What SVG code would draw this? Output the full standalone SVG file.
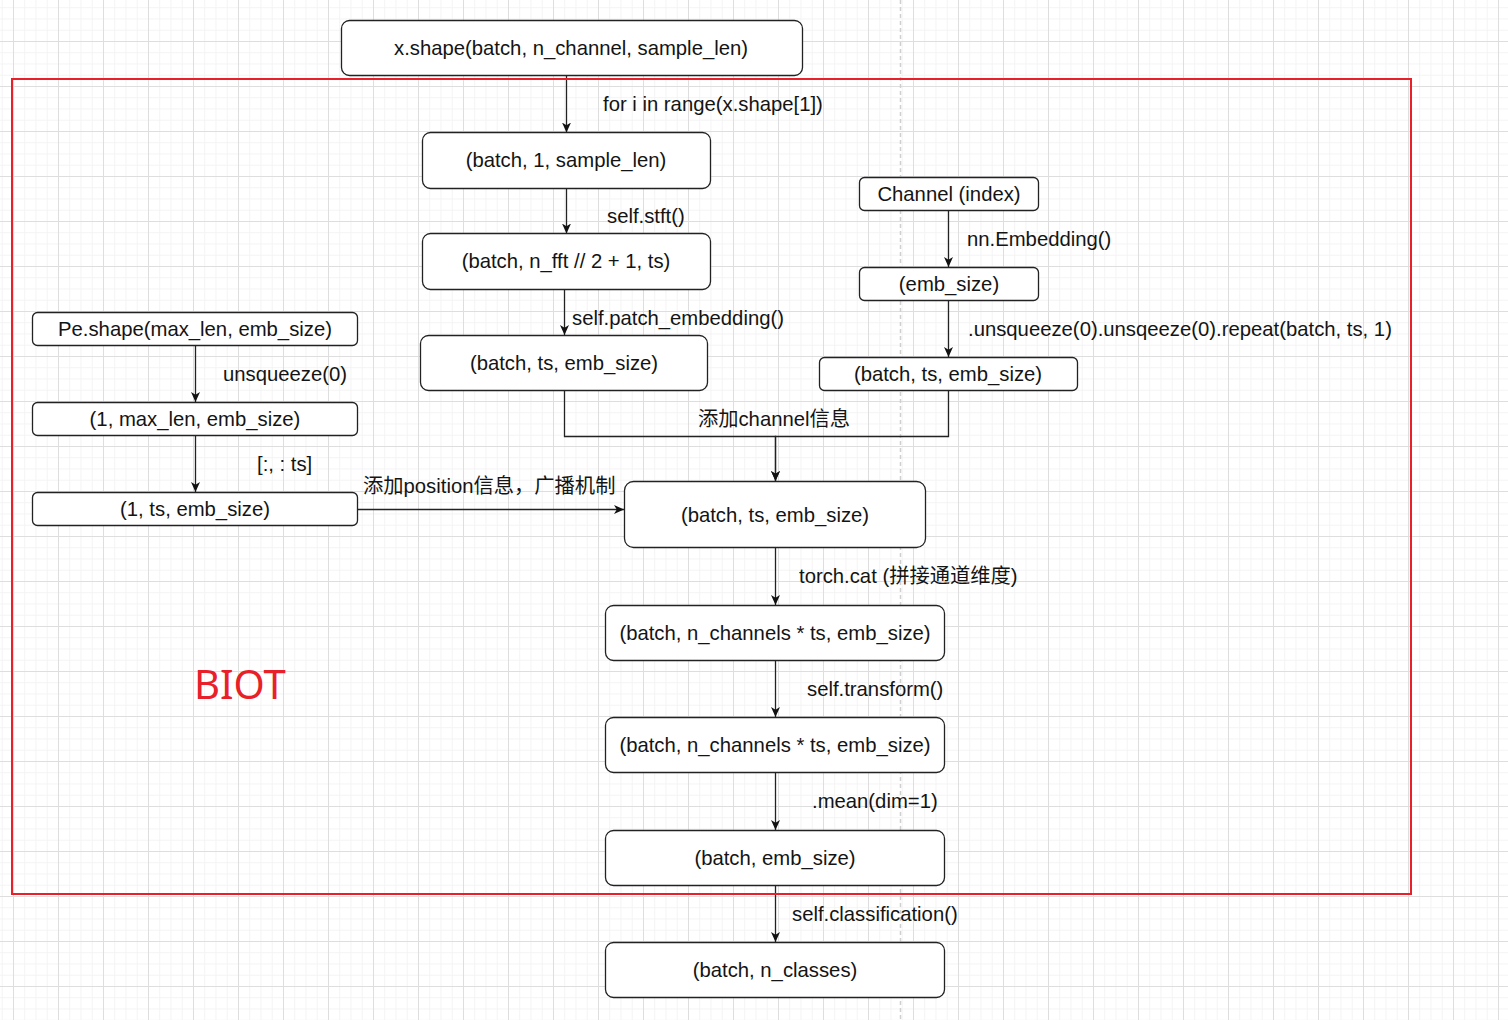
<svg xmlns="http://www.w3.org/2000/svg" width="1508" height="1020" viewBox="0 0 1508 1020">
  <defs>
    <pattern id="gridMinor" patternUnits="userSpaceOnUse" x="13" y="-4" width="11.25" height="11.25">
      <path d="M0.5,0 V11.25 M0,0.5 H11.25" fill="none" stroke="#f3f3f3" stroke-width="1"/>
    </pattern>
    <pattern id="gridMajor" patternUnits="userSpaceOnUse" x="13" y="-4" width="45" height="45">
      <path d="M0.5,0 V45 M0,0.5 H45" fill="none" stroke="#dedede" stroke-width="1"/>
    </pattern>
    <marker id="arrow" viewBox="0 0 10 10" refX="10" refY="5" markerWidth="10" markerHeight="10" markerUnits="userSpaceOnUse" orient="auto">
      <path d="M0,0.5 L10,5 L0,9.5 L2.8,5 Z" fill="#111111"/>
    </marker>
    <style>
      .node rect { fill: #ffffff; stroke: #222222; stroke-width: 1.3; }
      .node text { font-family: "Liberation Sans", Arial, "Noto Sans CJK SC", sans-serif; font-size: 20.3px; fill: #141414; text-anchor: middle; }
      .edge { fill: none; stroke: #222222; stroke-width: 1.3; }
      .arrowed { marker-end: url(#arrow); }
      .label { font-family: "Liberation Sans", Arial, "Noto Sans CJK SC", sans-serif; font-size: 20.3px; fill: #141414; }
      .mid { text-anchor: middle; }
    </style>
  </defs>

  <!-- canvas grid -->
  <rect x="0" y="0" width="1508" height="1020" fill="#ffffff"/>
  <rect x="0" y="0" width="1508" height="1020" fill="url(#gridMinor)"/>
  <rect x="0" y="0" width="1508" height="1020" fill="url(#gridMajor)"/>
  <!-- page break -->
  <line x1="900.5" y1="0" x2="900.5" y2="1020" stroke="#cfcfcf" stroke-width="1.5" stroke-dasharray="4 3"/>

  <!-- connectors -->
  <g id="connectors">
    <path class="edge arrowed" d="M566.5,76 V132.5"/>
    <path class="edge arrowed" d="M566.5,188.5 V233.5"/>
    <path class="edge arrowed" d="M564.5,289.5 V335"/>
    <path class="edge arrowed" d="M948.5,211 V267"/>
    <path class="edge arrowed" d="M948.5,301 V357"/>
    <path class="edge arrowed" d="M564.5,391 V436.5 H775.5 V481"/>
    <path class="edge arrowed" d="M948.5,391 V436.5 H775.5 V481"/>
    <path class="edge arrowed" d="M195.5,346 V402"/>
    <path class="edge arrowed" d="M195.5,436 V492"/>
    <path class="edge arrowed" d="M358,509.5 H624"/>
    <path class="edge arrowed" d="M775.5,548 V605"/>
    <path class="edge arrowed" d="M775.5,661 V717"/>
    <path class="edge arrowed" d="M775.5,773 V830"/>
    <path class="edge arrowed" d="M775.5,886 V942"/>

    <text class="label" x="603" y="111">for i in range(x.shape[1])</text>
    <text class="label" x="607" y="223">self.stft()</text>
    <text class="label" x="572" y="325">self.patch_embedding()</text>
    <text class="label" x="967" y="246">nn.Embedding()</text>
    <text class="label" x="968" y="336">.unsqueeze(0).unsqeeze(0).repeat(batch, ts, 1)</text>
    <text class="label mid" x="774" y="426">添加channel信息</text>
    <text class="label" x="223" y="381">unsqueeze(0)</text>
    <text class="label" x="257" y="471">[:, : ts]</text>
    <text class="label" x="363" y="493">添加position信息，广播机制</text>
    <text class="label" x="799" y="583">torch.cat (拼接通道维度)</text>
    <text class="label" x="807" y="696">self.transform()</text>
    <text class="label" x="812" y="808">.mean(dim=1)</text>
    <text class="label" x="792" y="921">self.classification()</text>
  </g>

  <!-- nodes -->
  <g id="n_input" class="node">
    <rect x="341.5" y="20.5" width="461" height="55" rx="8"/>
    <text x="571" y="55">x.shape(batch, n_channel, sample_len)</text>
  </g>
  <g id="n_single" class="node">
    <rect x="422.5" y="132.5" width="288" height="56" rx="8"/>
    <text x="566" y="167">(batch, 1, sample_len)</text>
  </g>
  <g id="n_stft" class="node">
    <rect x="422.5" y="233.5" width="288" height="56" rx="8"/>
    <text x="566" y="268">(batch, n_fft // 2 + 1, ts)</text>
  </g>
  <g id="n_patch" class="node">
    <rect x="420.5" y="335.5" width="287" height="55" rx="8"/>
    <text x="564" y="370">(batch, ts, emb_size)</text>
  </g>
  <g id="n_channel" class="node">
    <rect x="859.5" y="177.5" width="179" height="33" rx="5"/>
    <text x="949" y="201">Channel (index)</text>
  </g>
  <g id="n_emb" class="node">
    <rect x="859.5" y="267.5" width="179" height="33" rx="5"/>
    <text x="949" y="291">(emb_size)</text>
  </g>
  <g id="n_chan_rep" class="node">
    <rect x="819.5" y="357.5" width="258" height="33" rx="5"/>
    <text x="948" y="381">(batch, ts, emb_size)</text>
  </g>
  <g id="n_pe" class="node">
    <rect x="32.5" y="312.5" width="325" height="33" rx="5"/>
    <text x="195" y="336">Pe.shape(max_len, emb_size)</text>
  </g>
  <g id="n_pe_unsq" class="node">
    <rect x="32.5" y="402.5" width="325" height="33" rx="5"/>
    <text x="195" y="426">(1, max_len, emb_size)</text>
  </g>
  <g id="n_pe_slice" class="node">
    <rect x="32.5" y="492.5" width="325" height="33" rx="5"/>
    <text x="195" y="516">(1, ts, emb_size)</text>
  </g>
  <g id="n_sum" class="node">
    <rect x="624.5" y="481.5" width="301" height="66" rx="9"/>
    <text x="775" y="522">(batch, ts, emb_size)</text>
  </g>
  <g id="n_cat" class="node">
    <rect x="605.5" y="605.5" width="339" height="55" rx="8"/>
    <text x="775" y="640">(batch, n_channels * ts, emb_size)</text>
  </g>
  <g id="n_trans" class="node">
    <rect x="605.5" y="717.5" width="339" height="55" rx="8"/>
    <text x="775" y="752">(batch, n_channels * ts, emb_size)</text>
  </g>
  <g id="n_mean" class="node">
    <rect x="605.5" y="830.5" width="339" height="55" rx="8"/>
    <text x="775" y="865">(batch, emb_size)</text>
  </g>
  <g id="n_cls" class="node">
    <rect x="605.5" y="942.5" width="339" height="55" rx="8"/>
    <text x="775" y="977">(batch, n_classes)</text>
  </g>

  <!-- model boundary -->
  <rect x="12" y="79" width="1399" height="815" fill="none" stroke="#e8202a" stroke-width="2"/>
  <text x="194" y="699" font-family="'Noto Sans', 'Open Sans', sans-serif" font-size="40" fill="#e8202a">BIOT</text>
</svg>
